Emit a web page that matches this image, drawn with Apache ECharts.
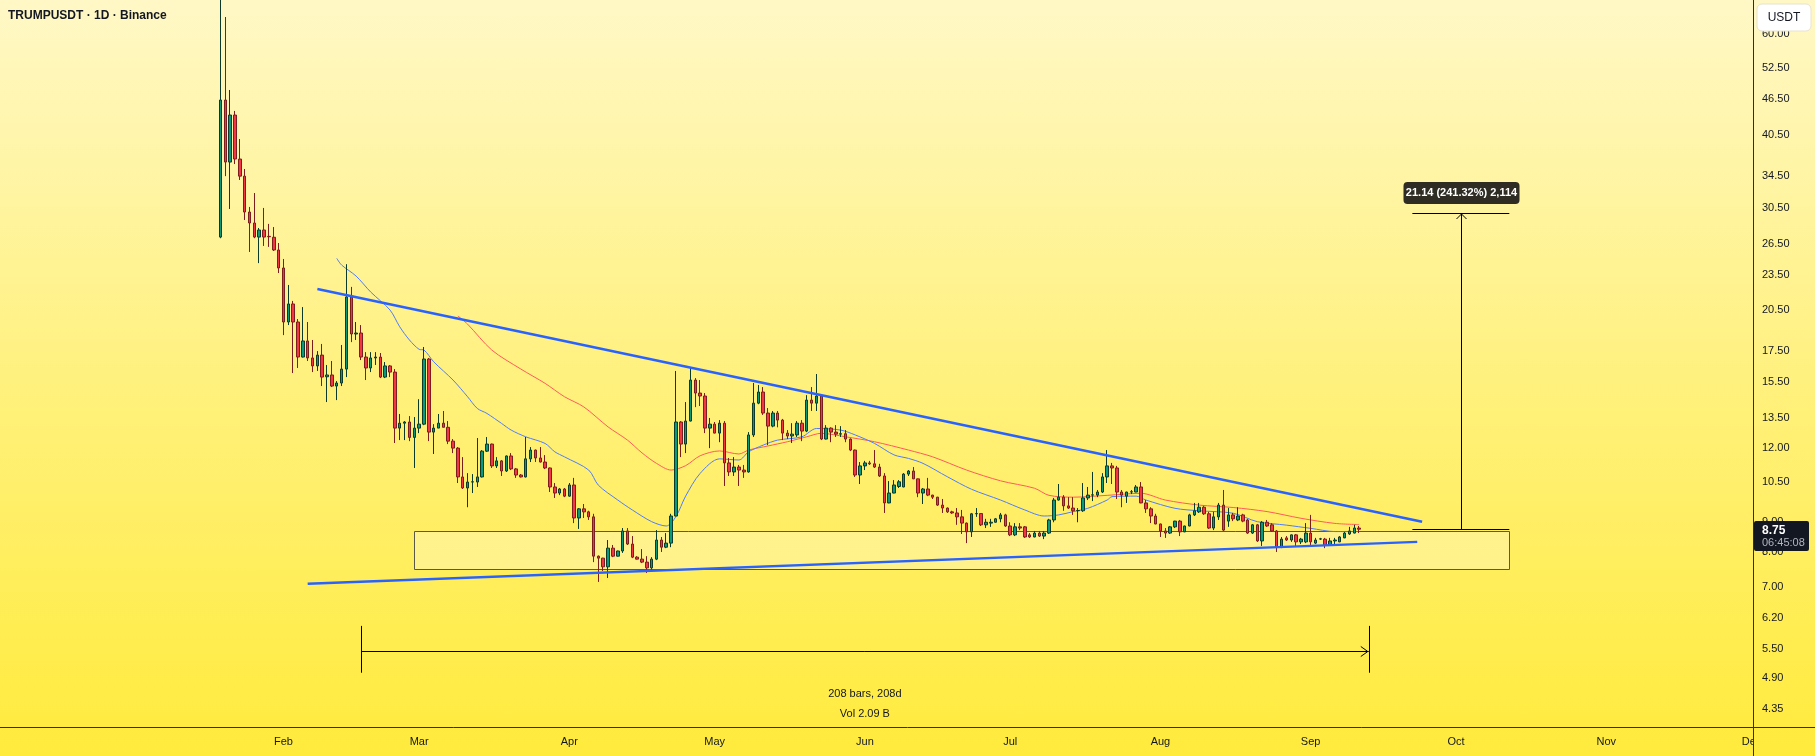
<!DOCTYPE html>
<html>
<head>
<meta charset="utf-8">
<title>TRUMPUSDT 1D</title>
<script src="https://cdn.jsdelivr.net/npm/echarts/dist/echarts.min.js"></script>
<style>
html, body { margin: 0; padding: 0; }
#chart {
    width: 1815px;
    height: 756px;
    background: linear-gradient(180deg, #fff8c6 0%, #fff17e 50%, #ffeb3c 100%);
}
</style>
</head>
<body>
<div id="chart"></div>
<script>
// x axis runs day by day; candles start on Jan 19
var axisStart = [2024, 11, 5];
var axisDays = 362;
var offset = 45; // index of 2025-01-19 on the axis
var monthNames = ['Jan', 'Feb', 'Mar', 'Apr', 'May', 'Jun', 'Jul', 'Aug', 'Sep', 'Oct', 'Nov', 'Dec'];

// daily candles [open, high, low, close], from 2025-01-19
var candles = [
    [27.22, 73.43, 27.1, 46.36], [46.36, 64.0, 34.49, 36.43], [36.43, 48.2, 30.36, 43.73], [43.73, 44.43, 36.15, 36.86],
    [36.86, 39.84, 33.98, 34.49], [34.49, 35.46, 29.09, 30.0], [30.0, 30.6, 25.69, 28.75], [28.75, 32.3, 27.1, 27.22],
    [27.22, 28.2, 24.6, 27.98], [27.98, 30.48, 26.3, 27.22], [27.3, 28.65, 26.2, 27.25], [27.2, 28.3, 25.79, 25.89],
    [25.89, 26.6, 23.67, 24.14], [24.14, 25.0, 18.6, 19.57], [19.57, 22.6, 19.34, 20.99], [20.99, 21.24, 16.05, 19.57],
    [19.57, 19.8, 16.37, 17.08], [17.08, 20.74, 17.05, 18.18], [18.18, 19.57, 16.82, 17.02], [17.02, 18.25, 16.11, 16.5],
    [16.5, 17.48, 16.18, 17.21], [17.21, 17.97, 15.26, 15.8], [15.82, 16.56, 14.34, 15.93], [15.93, 16.82, 15.2, 15.26],
    [15.26, 15.56, 14.45, 15.44], [15.44, 17.9, 15.26, 16.3], [16.3, 24.5, 15.8, 21.57], [21.57, 22.43, 18.1, 18.68],
    [18.68, 19.57, 18.25, 18.75], [18.75, 19.34, 16.88, 17.08], [17.08, 17.41, 15.62, 16.37], [16.37, 17.41, 16.11, 17.02],
    [17.02, 17.41, 16.56, 17.08], [17.08, 17.35, 15.74, 15.8], [15.8, 16.75, 15.74, 16.5], [16.5, 16.56, 15.8, 16.11],
    [16.11, 16.3, 12.23, 12.96], [12.96, 13.69, 12.37, 13.21], [13.21, 13.32, 12.37, 13.27], [13.27, 13.58, 12.32, 12.5],
    [12.5, 13.53, 11.1, 12.96], [12.96, 14.5, 12.71, 13.16], [13.16, 17.76, 13.11, 16.95], [16.95, 17.02, 12.32, 12.76],
    [12.76, 13.16, 11.72, 12.96], [12.96, 13.69, 12.96, 13.21], [13.21, 13.85, 13.0, 13.0], [13.0, 13.32, 12.18, 12.32],
    [12.32, 12.42, 11.76, 11.99], [11.99, 12.04, 10.47, 10.72], [10.72, 11.58, 10.23, 10.27], [10.27, 10.88, 9.53, 10.51],
    [10.51, 10.84, 10.07, 10.52], [10.51, 12.47, 10.31, 10.72], [10.72, 11.9, 10.7, 11.85], [11.85, 12.52, 11.81, 12.18],
    [12.18, 12.2, 11.1, 11.19], [11.19, 11.58, 11.1, 11.41], [11.41, 11.45, 10.76, 10.97], [10.97, 11.65, 10.93, 11.63],
    [11.63, 11.76, 11.01, 11.06], [11.06, 11.1, 10.68, 10.8], [10.8, 10.84, 10.7, 10.72], [10.72, 12.52, 10.7, 11.5],
    [11.5, 12.04, 11.36, 11.9], [11.9, 11.92, 11.36, 11.54], [11.54, 12.04, 11.34, 11.36], [11.36, 11.67, 11.05, 11.1],
    [11.1, 11.12, 10.11, 10.31], [10.31, 10.47, 9.88, 10.07], [10.07, 10.27, 9.99, 10.23], [10.23, 10.27, 9.91, 9.95],
    [9.95, 10.47, 9.93, 10.39], [10.39, 10.68, 8.96, 9.14], [9.14, 9.5, 8.76, 9.47], [9.47, 9.65, 9.14, 9.36],
    [9.36, 9.4, 9.07, 9.18], [9.18, 9.29, 7.7, 7.88], [7.88, 7.9, 7.13, 7.82], [7.82, 7.83, 7.44, 7.56],
    [7.56, 8.39, 7.24, 8.13], [8.13, 8.23, 7.85, 7.88], [7.88, 8.05, 7.87, 8.04], [8.04, 8.79, 7.98, 8.69],
    [8.69, 8.79, 8.23, 8.26], [8.26, 8.52, 7.82, 7.85], [7.85, 7.88, 7.78, 7.79], [7.79, 8.1, 7.67, 7.7],
    [7.7, 7.88, 7.38, 7.53], [7.53, 7.85, 7.47, 7.79], [7.79, 8.72, 7.76, 8.39], [8.39, 8.49, 8.01, 8.16],
    [8.16, 8.62, 8.13, 8.29], [8.29, 9.29, 8.16, 9.21], [9.21, 16.18, 9.2, 13.27], [13.27, 13.32, 11.58, 12.18],
    [12.18, 14.34, 11.76, 13.32], [13.32, 16.43, 13.3, 15.62], [15.62, 15.74, 14.06, 14.85], [14.85, 15.62, 14.12, 14.68],
    [14.68, 14.85, 12.71, 12.96], [12.96, 13.48, 11.99, 13.16], [13.16, 13.27, 12.7, 12.71], [12.71, 13.37, 12.27, 13.21],
    [13.21, 13.32, 10.35, 11.32], [11.32, 11.54, 10.76, 10.93], [10.93, 11.58, 10.76, 11.14], [11.14, 11.23, 10.35, 11.01],
    [11.01, 11.23, 10.68, 10.93], [10.93, 12.76, 10.9, 12.62], [12.62, 15.44, 12.52, 14.28], [14.28, 15.32, 14.22, 14.91],
    [14.91, 15.2, 13.64, 13.74], [13.74, 14.01, 12.13, 13.06], [13.06, 13.85, 13.0, 13.74], [13.74, 13.85, 13.0, 13.37],
    [13.37, 13.43, 12.37, 12.71], [12.71, 12.86, 12.42, 12.57], [12.57, 13.21, 12.23, 12.66], [12.62, 13.32, 12.52, 13.21],
    [13.21, 13.37, 12.32, 12.81], [12.81, 14.73, 12.76, 14.45], [14.45, 15.2, 13.85, 14.28], [14.28, 15.99, 13.85, 14.68],
    [14.68, 14.7, 12.37, 12.42], [12.42, 13.11, 12.4, 12.96], [12.96, 13.0, 12.27, 12.76], [12.76, 13.11, 12.52, 12.66],
    [12.66, 13.06, 12.52, 12.68], [12.68, 12.86, 12.27, 12.42], [12.42, 12.45, 11.85, 11.9], [11.9, 11.92, 10.72, 10.8],
    [10.8, 11.36, 10.43, 11.19], [11.19, 11.41, 11.01, 11.32], [11.32, 11.41, 11.23, 11.28], [11.28, 11.9, 11.1, 11.14],
    [11.14, 11.28, 10.72, 10.76], [10.76, 10.88, 9.32, 9.69], [9.69, 10.55, 9.68, 10.07], [10.07, 10.59, 10.06, 10.39],
    [10.33, 10.59, 10.27, 10.52], [10.31, 10.88, 10.3, 10.84], [10.84, 11.01, 10.76, 10.97], [10.97, 11.14, 10.63, 10.64],
    [10.64, 10.65, 9.91, 10.07], [10.07, 10.27, 9.65, 10.23], [10.23, 10.68, 9.95, 9.99], [9.99, 10.0, 9.84, 9.91],
    [9.91, 9.92, 9.58, 9.61], [9.61, 9.84, 9.32, 9.5], [9.5, 9.52, 9.32, 9.36], [9.36, 9.4, 9.29, 9.32],
    [9.32, 9.5, 8.9, 9.18], [9.18, 9.43, 8.59, 8.96], [8.96, 8.98, 8.29, 8.66], [8.66, 9.32, 8.49, 9.29],
    [9.29, 9.5, 9.18, 9.3], [9.3, 9.31, 8.86, 8.9], [8.9, 9.11, 8.79, 8.99], [8.96, 9.11, 8.83, 8.99],
    [8.99, 9.14, 8.98, 9.11], [9.11, 9.32, 8.99, 9.25], [9.25, 9.29, 8.83, 8.86], [8.86, 8.99, 8.52, 8.56],
    [8.56, 8.96, 8.52, 8.83], [8.83, 8.96, 8.72, 8.79], [8.83, 8.86, 8.46, 8.49], [8.56, 8.62, 8.46, 8.49],
    [8.49, 8.69, 8.48, 8.62], [8.62, 8.69, 8.49, 8.52], [8.52, 8.69, 8.42, 8.62], [8.62, 9.11, 8.59, 9.07],
    [9.07, 9.88, 8.99, 9.8], [9.8, 10.43, 9.78, 9.91], [9.91, 9.99, 9.4, 9.58], [9.58, 9.91, 9.47, 9.5],
    [9.5, 9.91, 9.25, 9.4], [9.4, 9.5, 8.99, 9.41], [9.4, 10.47, 9.36, 9.88], [9.88, 10.31, 9.8, 9.99],
    [9.99, 10.93, 9.76, 10.0], [9.99, 10.19, 9.91, 10.11], [10.11, 10.88, 10.07, 10.72], [10.72, 11.9, 10.47, 11.19],
    [11.19, 11.32, 10.43, 11.1], [11.1, 11.19, 9.84, 10.11], [10.11, 10.19, 9.53, 9.99], [9.95, 10.12, 9.69, 10.11],
    [10.11, 10.19, 10.03, 10.12], [10.11, 10.39, 10.1, 10.31], [10.31, 10.51, 9.68, 9.69], [9.69, 9.8, 9.32, 9.47],
    [9.47, 9.53, 8.96, 9.21], [9.21, 9.29, 8.92, 8.93], [8.93, 8.94, 8.49, 8.69], [8.69, 8.79, 8.46, 8.62],
    [8.62, 8.86, 8.59, 8.83], [8.83, 9.04, 8.79, 9.03], [9.03, 9.07, 8.52, 8.66], [8.66, 8.87, 8.65, 8.86],
    [8.86, 9.29, 8.85, 9.25], [9.25, 9.69, 9.21, 9.4], [9.36, 9.69, 9.32, 9.53], [9.53, 9.58, 9.25, 9.29],
    [9.29, 9.36, 8.76, 8.79], [8.79, 9.36, 8.72, 9.18], [9.18, 9.69, 9.07, 9.61], [9.61, 10.19, 8.69, 8.72],
    [9.03, 9.5, 8.83, 9.25], [9.25, 9.32, 9.03, 9.11], [9.07, 9.53, 9.03, 9.21], [9.25, 9.29, 8.99, 9.03],
    [9.07, 9.11, 8.59, 8.62], [8.62, 8.93, 8.59, 8.9], [8.9, 8.93, 8.33, 8.36], [8.36, 9.03, 8.2, 8.99],
    [8.99, 9.07, 8.83, 8.86], [8.9, 8.96, 8.66, 8.69], [8.69, 8.72, 8.01, 8.16], [8.16, 8.49, 8.13, 8.42],
    [8.46, 8.52, 8.36, 8.39], [8.39, 8.57, 8.33, 8.56], [8.56, 8.59, 8.2, 8.33], [8.33, 8.46, 8.26, 8.42],
    [8.33, 8.96, 8.29, 8.62], [8.62, 9.25, 8.23, 8.33], [8.29, 8.46, 8.26, 8.39], [8.42, 8.46, 8.39, 8.43],
    [8.42, 8.46, 8.13, 8.23], [8.23, 8.46, 8.22, 8.36], [8.36, 8.46, 8.26, 8.39], [8.33, 8.52, 8.32, 8.49],
    [8.46, 8.66, 8.45, 8.62], [8.59, 8.83, 8.56, 8.69], [8.62, 8.9, 8.61, 8.79], [8.79, 8.86, 8.62, 8.75]
];

// moving averages: [candle index, price]
var maBlue = [
    [24, 25.06], [25, 24.42], [28, 23.39], [31, 21.99], [35, 20.5], [37, 19.21], [39, 18.25], [41, 17.6],
    [42, 17.55], [44, 16.77], [48, 15.62], [51, 14.64], [53, 13.99], [55, 13.72], [58, 13.2], [60, 12.86],
    [63, 12.53], [67, 12.21], [69, 11.82], [71, 11.59], [76, 11.01], [78, 10.38], [82, 9.8], [85, 9.43],
    [89, 9.01], [92, 8.86], [94, 9.19], [96, 9.95], [99, 10.87], [103, 11.5], [107, 11.45], [109, 11.82],
    [112, 12.13], [115, 12.37], [120, 12.53], [123, 12.94], [128, 12.86], [131, 12.62], [135, 12.21], [139, 11.68],
    [142, 11.52], [145, 11.3], [150, 10.73], [155, 10.22], [161, 9.8], [166, 9.43], [170, 9.21], [173, 9.25],
    [176, 9.37], [179, 9.49], [183, 9.8], [184, 9.93], [189, 9.95], [191, 9.8], [197, 9.49], [202, 9.4],
    [209, 9.31], [214, 9.01], [220, 8.89], [225, 8.78], [230, 8.67], [235, 8.67]
];
var maRed = [
    [49, 20.03], [51, 19.41], [56, 17.55], [62, 16.3], [67, 15.42], [71, 14.64], [75, 14.07], [80, 13.02],
    [84, 12.37], [87, 11.77], [90, 11.3], [93, 11.01], [96, 11.2], [99, 11.64], [103, 11.86], [107, 11.72],
    [109, 11.9], [113, 12.09], [117, 12.29], [121, 12.53], [124, 12.7], [129, 12.53], [135, 12.29], [142, 11.9],
    [147, 11.59], [154, 11.01], [161, 10.56], [168, 10.26], [171, 9.98], [176, 9.91], [183, 9.98], [190, 10.06],
    [195, 9.8], [202, 9.61], [209, 9.52], [216, 9.37], [223, 9.13], [230, 8.95], [235, 8.91]
];

// drawings, in [candle index, price]
var upperTrend = [[20, 22.25], [248, 9.01]];
var lowerTrend = [[18, 7.08], [247, 8.33]];
var zone = { from: 40, to: 266, top: 8.69, bottom: 7.49 };
var rangeTool = { from: 29, to: 237, price: 5.46, tickHigh: 6.01, tickLow: 5.01 };
var target = { at: 256, capFrom: 246, capTo: 266, base: 8.75, top: 29.89 };

var priceTicks = [60.00, 52.50, 46.50, 40.50, 34.50, 30.50, 26.50, 23.50, 20.50, 17.50, 15.50,
    13.50, 12.00, 10.50, 9.00, 8.00, 7.00, 6.20, 5.50, 4.90, 4.35];
var lastPrice = 8.75;
var yMin = 4.058, yMax = 68.37;

var dates = [];
var d0 = Date.UTC(axisStart[0], axisStart[1], axisStart[2]);
for (var k = 0; k < axisDays; k++) {
    dates.push(new Date(d0 + k * 86400000).toISOString().slice(0, 10));
}

var kData = dates.map(function (d, k) {
    var c = candles[k - offset];
    return c ? [c[0], c[3], c[2], c[1]] : ['-', '-', '-', '-'];
});
function shift(list) {
    return list.map(function (p) { return [p[0] + offset, p[1]]; });
}

var font = '"Liberation Sans", Arial, sans-serif';
var chart = echarts.init(document.getElementById('chart'));

var option = {
    backgroundColor: 'transparent',
    animation: false,
    grid: { left: 0, right: 61, top: 0, bottom: 29 },
    xAxis: {
        type: 'category',
        data: dates,
        axisLine: { show: false },
        axisTick: { show: false },
        splitLine: { show: false },
        axisLabel: {
            color: '#131722',
            fontSize: 11,
            fontFamily: font,
            margin: 9,
            interval: function (idx, val) {
                return val.slice(8) === '01' && val.slice(5, 7) !== '01';
            },
            formatter: function (val) {
                return monthNames[+val.slice(5, 7) - 1];
            }
        }
    },
    yAxis: {
        type: 'log',
        logBase: 10,
        min: yMin,
        max: yMax,
        position: 'right',
        axisLine: { show: false },
        axisTick: { show: false },
        axisLabel: { show: false },
        splitLine: { show: false }
    },
    series: [
        {
            type: 'line',
            data: shift(maRed),
            symbol: 'none',
            smooth: 0.3,
            lineStyle: { color: '#ff5a5a', width: 1 },
            z: 2
        },
        {
            type: 'line',
            data: shift(maBlue),
            symbol: 'none',
            smooth: 0.3,
            lineStyle: { color: '#4d7cfe', width: 1 },
            z: 2
        },
        {
            type: 'candlestick',
            data: kData,
            barWidth: 3,
            clip: true,
            itemStyle: {
                color: '#089981',
                color0: '#f23645',
                borderColor: '#0c3b2c',
                borderColor0: '#7d1d1d',
                borderWidth: 1
            },
            z: 3
        },
        {
            type: 'line',
            data: shift(upperTrend),
            symbol: 'none',
            lineStyle: { color: '#2962ff', width: 2.5 },
            z: 4
        },
        {
            type: 'line',
            data: shift(lowerTrend),
            symbol: 'none',
            lineStyle: { color: '#2962ff', width: 2.5 },
            z: 4
        }
    ]
};
chart.setOption(option);

function P(i, p) {
    return chart.convertToPixel({ gridIndex: 0 }, [i + offset, p]);
}
function crisp(v) { return Math.round(v) + 0.5; }
function txt(text, x, y, color, size, weight, align, z) {
    return {
        type: 'text', z: z || 100,
        style: {
            text: text, x: x, y: y, fill: color,
            font: (weight || 'normal') + ' ' + size + 'px ' + font,
            textAlign: align || 'left', align: align || 'left',
            textVerticalAlign: 'middle', verticalAlign: 'middle'
        }
    };
}
function seg(x1, y1, x2, y2, color, w, z) {
    return { type: 'line', z: z || 100, shape: { x1: x1, y1: y1, x2: x2, y2: y2 }, style: { stroke: color, lineWidth: w || 1 } };
}

var els = [];

// support zone box
var za = P(zone.from, zone.top), zb = P(zone.to, zone.bottom);
els.push({
    type: 'rect', z: 1,
    shape: { x: crisp(za[0]), y: crisp(za[1]), width: Math.round(zb[0] - za[0]), height: Math.round(zb[1] - za[1]) },
    style: { fill: 'rgba(255,255,255,0.28)', stroke: '#5c5847', lineWidth: 1 }
});

// date range tool
var ra = P(rangeTool.from, rangeTool.price), rb = P(rangeTool.to, rangeTool.price);
var rTop = P(rangeTool.from, rangeTool.tickHigh)[1], rBot = P(rangeTool.from, rangeTool.tickLow)[1];
var ry = crisp(ra[1]);
els.push(seg(crisp(ra[0]), rTop, crisp(ra[0]), rBot, '#000'));
els.push(seg(crisp(rb[0]), rTop, crisp(rb[0]), rBot, '#000'));
els.push(seg(ra[0], ry, rb[0], ry, '#000'));
els.push({ type: 'polyline', z: 100, shape: { points: [[rb[0] - 8, ry - 5], [rb[0] - 1, ry], [rb[0] - 8, ry + 5]] }, style: { stroke: '#000', lineWidth: 1, fill: null } });
var rMid = (ra[0] + rb[0]) / 2;
els.push(txt('208 bars, 208d', rMid, 694, '#131722', 11, 'normal', 'center'));
els.push(txt('Vol 2.09 B', rMid, 714, '#131722', 11, 'normal', 'center'));

// target arrow
var tb = P(target.at, target.base), tt = P(target.at, target.top);
var c1 = P(target.capFrom, target.base)[0], c2 = P(target.capTo, target.base)[0];
var tx = crisp(tb[0]);
els.push(seg(tx, tb[1], tx, tt[1], '#000'));
els.push(seg(c1, crisp(tt[1]), c2, crisp(tt[1]), '#000'));
els.push(seg(c1, crisp(tb[1]), c2, crisp(tb[1]), '#000'));
els.push({ type: 'polyline', z: 100, shape: { points: [[tx - 5, tt[1] + 6], [tx, tt[1] + 1], [tx + 5, tt[1] + 6]] }, style: { stroke: '#000', lineWidth: 1, fill: null } });
els.push({ type: 'rect', z: 100, shape: { x: tx - 58, y: tt[1] - 31, width: 116, height: 22, r: 4 }, style: { fill: '#2f2d23' } });
els.push(txt('21.14 (241.32%) 2,114', tx, tt[1] - 20, '#ffffff', 11, 'bold', 'center', 101));

// title
els.push(txt('TRUMPUSDT \u00b7 1D \u00b7 Binance', 8, 16, '#131722', 12, 'bold', 'left'));

// right price panel
els.push({
    type: 'rect', z: 110,
    shape: { x: 1754, y: 0, width: 61, height: 756 },
    style: {
        fill: new echarts.graphic.LinearGradient(0, 0, 0, 1, [
            { offset: 0, color: '#fff8c6' }, { offset: 0.5, color: '#fff17e' }, { offset: 1, color: '#ffeb3c' }
        ])
    }
});
priceTicks.forEach(function (v) {
    var y = chart.convertToPixel({ yAxisIndex: 0 }, v);
    els.push(txt(v.toFixed(2), 1762, y, '#131722', 11, 'normal', 'left', 111));
});
els.push(seg(1753.5, 0, 1753.5, 756, '#2a2e39', 1, 112));
els.push(seg(0, 727.5, 1815, 727.5, '#2a2e39', 1, 112));

// unit badge
els.push({ type: 'rect', z: 113, shape: { x: 1757, y: 4, width: 54, height: 27, r: 5 }, style: { fill: '#ffffff', stroke: '#e6e3d0', lineWidth: 1 } });
els.push(txt('USDT', 1784, 17.5, '#131722', 12, 'normal', 'center', 114));

// last price badge
var ly = chart.convertToPixel({ yAxisIndex: 0 }, lastPrice);
els.push({ type: 'rect', z: 113, shape: { x: 1754, y: Math.round(ly) - 8, width: 55, height: 30, r: 2 }, style: { fill: '#131722' } });
els.push(txt(lastPrice.toFixed(2), 1762, ly + 1, '#ffffff', 12, 'bold', 'left', 114));
els.push(txt('06:45:08', 1762, ly + 14, '#b2b5be', 11, 'normal', 'left', 114));

chart.setOption({ graphic: { elements: els } });
</script>
</body>
</html>
